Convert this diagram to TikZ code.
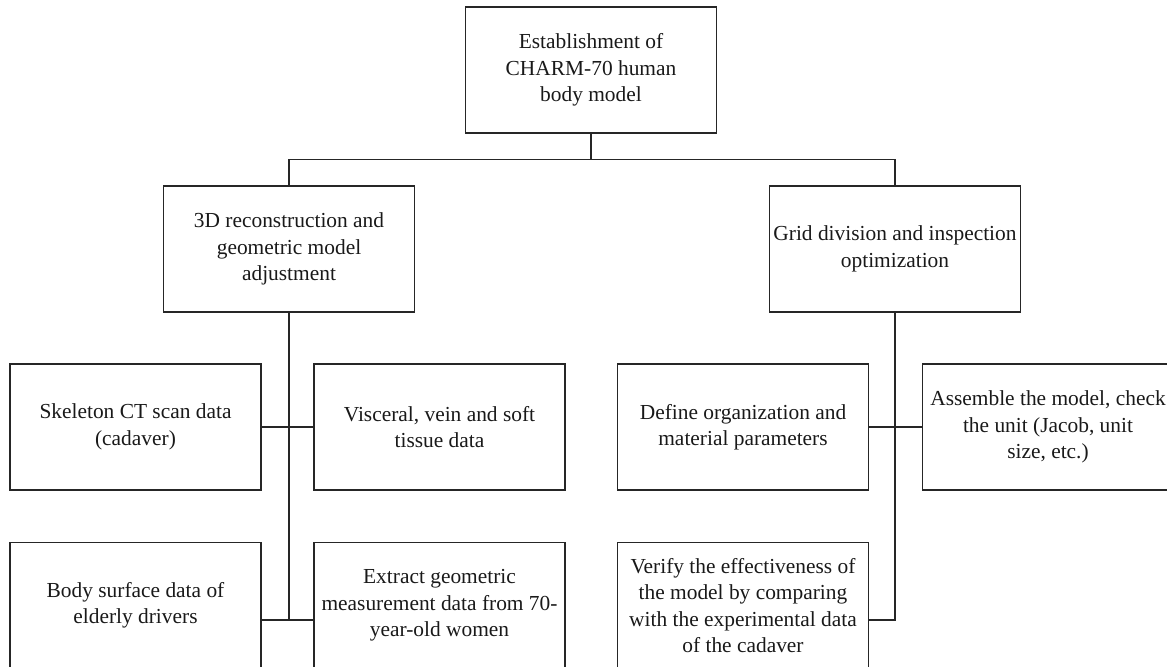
\documentclass[tikz,border=0pt]{standalone}
\usepackage{fontspec}
\setmainfont{Liberation Serif}
\begin{document}
\begin{tikzpicture}[x=0.5pt,y=-0.5pt,
  box/.style={draw=black!85,line width=0.6pt,minimum width=125.5pt,
    minimum height=63pt,inner sep=0pt,align=center,text=black!90,
    font=\fontsize{10.7}{13.2}\selectfont},
  link/.style={draw=black!85,line width=0.6pt}]
% page frame (pixel units, y downwards)
\useasboundingbox (0,0) rectangle (1167,667);
% root
\node[box] (top) at (591,70) {Establishment of\\CHARM-70 human\\body model};
% two branches
\node[box] (geo) at (289,249) {3D reconstruction and\\geometric model\\adjustment};
\node[box] (grid) at (895,249) {Grid division and inspection\\optimization};
% left group of data sources
\node[box] (skel) at (135.5,427) {Skeleton CT scan data\\(cadaver)};
\node[box] (visc) at (439.5,427) {Visceral, vein and soft\\tissue data};
\node[box] (body) at (135.5,605.5) {Body surface data of\\elderly drivers};
\node[box] (extr) at (439.5,605.5) {Extract geometric\\measurement data from 70-\\year-old women};
% right group of steps
\node[box] (defn) at (743,427) {Define organization and\\material parameters};
\node[box] (asmb) at (1048,427) {Assemble the model, check\\the unit (Jacob, unit\\size, etc.)};
\node[box] (verf) at (743,605.5) {Verify the effectiveness of\\the model by comparing\\with the experimental data\\of the cadaver};
% bar under the root
\coordinate (bar) at ([yshift=-13pt]top.south);
\draw[link] (top.south) -- (bar);
\draw[link] (geo.north) |- (bar) -| (grid.north);
% left spine and its branches
\coordinate (lend) at ([yshift=-7.25pt]body.east);
\draw[link] (geo.south) -- (geo.south |- lend);
\draw[link] (skel.east) -- (visc.west);
\draw[link] (lend) -- (extr.west |- lend);
% right spine and its branches
\coordinate (rend) at ([yshift=-7.25pt]verf.east);
\draw[link] (grid.south) |- (rend);
\draw[link] (defn.east) -- (asmb.west);
\end{tikzpicture}
\end{document}
